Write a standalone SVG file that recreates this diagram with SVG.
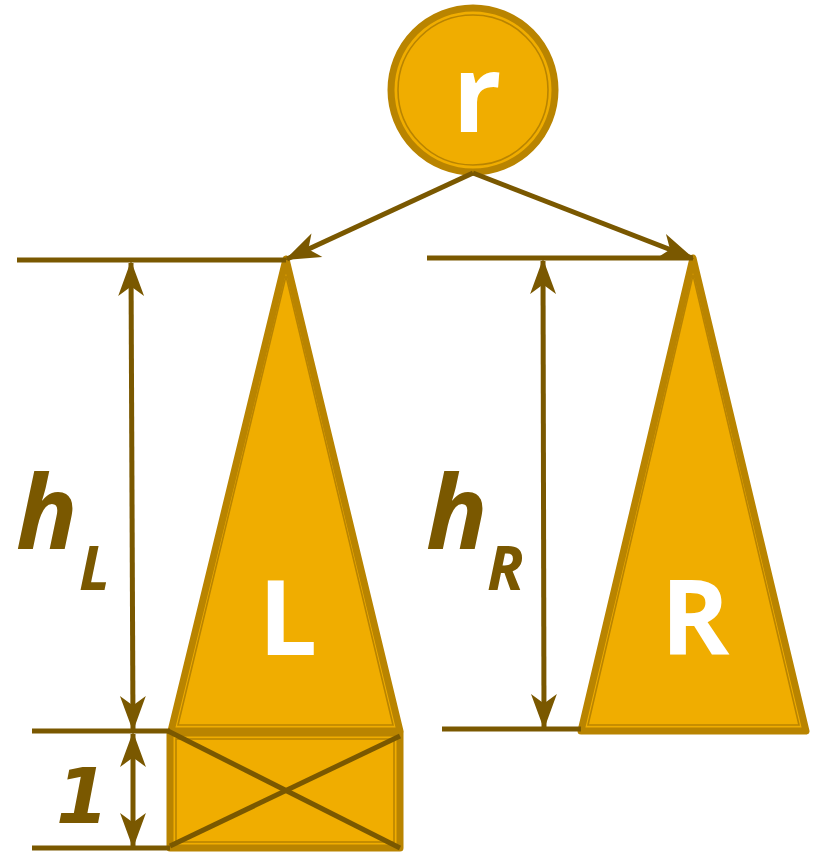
<svg xmlns="http://www.w3.org/2000/svg" width="814" height="852" viewBox="0 0 814 852">
<style>
.shape{fill:#F0AD00;stroke:#B98400;stroke-width:7;stroke-linejoin:round}
.inner{fill:none;stroke:#B98400;stroke-width:1.6;stroke-linejoin:miter}
.dim{stroke:#7A5800;stroke-width:5;fill:none}
.wt{fill:#FFFFFF;font-family:'Open Sans','DejaVu Sans',sans-serif;font-weight:bold;text-anchor:middle}
.lab{fill:#7A5800;font-family:'Open Sans','DejaVu Sans',sans-serif;font-weight:bold;font-style:italic}
</style>
<defs>
<marker id="ah" markerUnits="userSpaceOnUse" markerWidth="40" markerHeight="40" refX="0" refY="0" viewBox="-32 -15 34 30" orient="auto-start-reverse" overflow="visible">
<path d="M2,0 L-28,-11 L-20,0 L-28,11 Z" fill="#7A5800"/>
</marker>
</defs>
<g id="node-r">
<circle class="shape" cx="473" cy="90" r="82"/>
<circle class="inner" cx="473" cy="90" r="75"/>
<text class="wt" x="477" y="132" font-size="108" font-weight="600">r</text>
</g>
<g id="node-L">
<polygon class="shape" points="286,259 400,731 171,731"/>
<polygon class="inner" points="286,276 393,725 178,725"/>
<text class="wt" x="288" y="655" font-size="104">L</text>
</g>
<g id="node-box">
<rect class="shape" x="170" y="733" width="230" height="115"/>
<rect class="inner" x="176" y="739" width="218" height="103"/>
</g>
<g id="node-R">
<polygon class="shape" points="693,258 806,731 581,731"/>
<polygon class="inner" points="693,275 799,725 588,725"/>
<text class="wt" x="695" y="655" font-size="104">R</text>
</g>
<g id="connectors">
<line class="dim" x1="473" y1="173" x2="287" y2="259" marker-end="url(#ah)"/>
<line class="dim" x1="473" y1="173" x2="692" y2="258" marker-end="url(#ah)"/>
<line class="dim" x1="168" y1="731" x2="400" y2="848"/>
<line class="dim" x1="170" y1="846" x2="400" y2="736"/>
<line class="dim" x1="17" y1="260" x2="286" y2="260"/>
<line class="dim" x1="32" y1="731" x2="170" y2="731"/>
<line class="dim" x1="32" y1="848" x2="170" y2="848"/>
<line class="dim" x1="131" y1="263" x2="133" y2="729" marker-start="url(#ah)" marker-end="url(#ah)"/>
<line class="dim" x1="133" y1="734" x2="133" y2="846" marker-start="url(#ah)" marker-end="url(#ah)"/>
<line class="dim" x1="427" y1="258" x2="693" y2="258"/>
<line class="dim" x1="442" y1="729" x2="581" y2="729"/>
<line class="dim" x1="543" y1="261" x2="544" y2="727" marker-start="url(#ah)" marker-end="url(#ah)"/>
</g>
<g id="labels">
<text class="lab" x="16" y="549" font-size="102">h</text>
<text class="lab" x="79" y="590" font-size="60">L</text>
<text class="lab" x="426" y="549" font-size="102">h</text>
<text class="lab" x="487" y="590" font-size="60">R</text>
<text class="lab" x="56" y="823" font-size="76" style="font-family:'DejaVu Sans',sans-serif">1</text>
</g>
</svg>
